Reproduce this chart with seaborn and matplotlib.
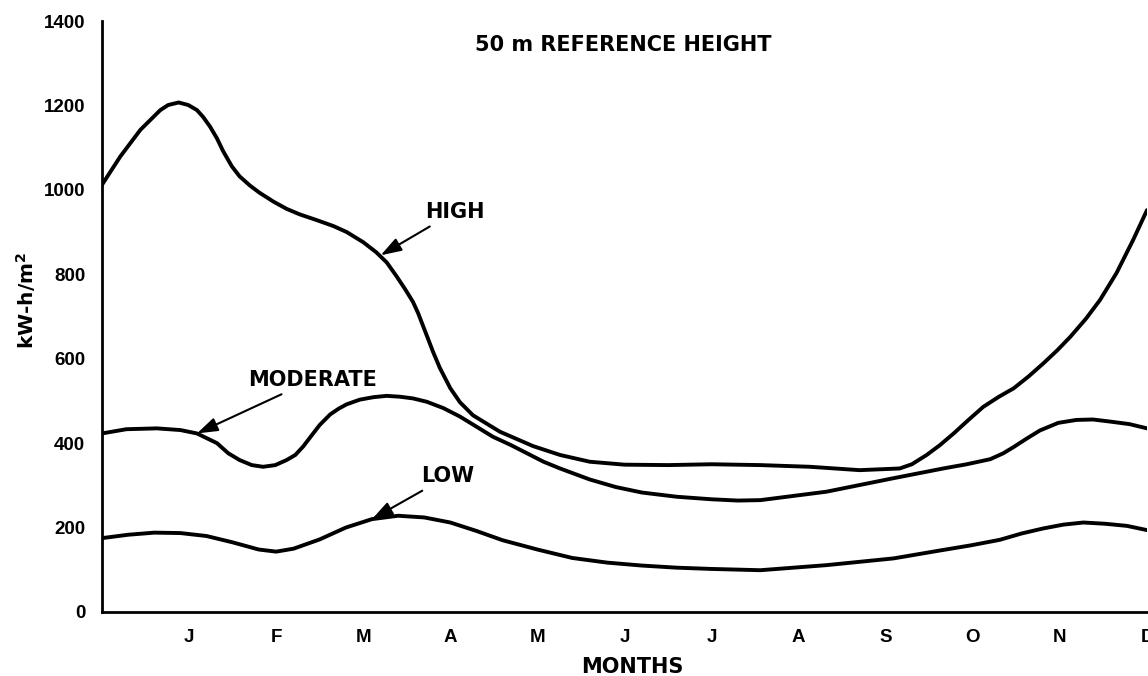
import numpy as np
import pandas as pd
import matplotlib
matplotlib.use('Agg')
import matplotlib.pyplot as plt
import seaborn as sns

# values (x in months from start of axis, y in kW-h/m2)
high_x = [0.0, 0.21, 0.44, 0.67, 0.76, 0.88, 0.99, 1.09, 1.16, 1.24, 1.32, 1.39, 1.49,
          1.58, 1.70, 1.81, 1.97, 2.12, 2.27, 2.47, 2.66, 2.81, 3.0, 3.15, 3.27, 3.38,
          3.48, 3.57, 3.63, 3.69, 3.75, 3.80, 3.88, 4.0, 4.11, 4.26, 4.57, 4.95, 5.26,
          5.6, 6.0, 6.5, 7.0, 7.56, 8.13, 8.70, 9.16, 9.3, 9.47, 9.62, 9.78, 9.95, 10.12,
          10.3, 10.47, 10.64, 10.81, 10.97, 11.12, 11.3, 11.46, 11.65, 11.84, 12.0]
high_y = [1012, 1079, 1142, 1189, 1201, 1207, 1201, 1189, 1173, 1150, 1122, 1092, 1056,
          1032, 1010, 993, 972, 955, 942, 928, 914, 900, 876, 852, 828, 796, 765, 735,
          708, 676, 644, 617, 578, 530, 497, 466, 427, 393, 372, 356, 349, 348, 350, 348,
          344, 336, 340, 350, 372, 395, 423, 455, 486, 510, 530, 558, 589, 620, 652, 695,
          739, 803, 881, 952]

mod_x = [0.0, 0.28, 0.63, 0.90, 1.09, 1.32, 1.45, 1.58, 1.72, 1.85, 1.99, 2.12, 2.22,
         2.31, 2.41, 2.50, 2.62, 2.72, 2.81, 2.96, 3.12, 3.27, 3.42, 3.57, 3.73, 3.92,
         4.11, 4.3, 4.49, 4.69, 4.88, 5.07, 5.26, 5.6, 5.9, 6.2, 6.6, 7.0, 7.3, 7.56,
         8.32, 9.09, 9.66, 9.93, 10.2, 10.35, 10.47, 10.62, 10.77, 10.98, 11.19, 11.38,
         11.58, 11.8, 12.0]
mod_y = [423, 433, 435, 431, 423, 400, 376, 360, 348, 344, 348, 360, 372, 392, 419, 443,
         468, 482, 492, 503, 509, 512, 510, 506, 498, 483, 463, 439, 415, 396, 376, 356,
         340, 314, 296, 283, 273, 267, 264, 265, 285, 317, 340, 350, 362, 376, 391, 411,
         430, 448, 455, 456, 451, 445, 435]

low_x = [0.0, 0.3, 0.6, 0.9, 1.2, 1.5, 1.8, 2.0, 2.2, 2.5, 2.8, 3.1, 3.4, 3.7, 4.0, 4.3,
         4.6, 5.0, 5.4, 5.8, 6.2, 6.6, 7.0, 7.56, 8.32, 9.09, 9.66, 9.98, 10.31, 10.56,
         10.81, 11.04, 11.27, 11.52, 11.77, 12.0]
low_y = [175, 183, 188, 187, 180, 165, 148, 143, 150, 172, 200, 220, 228, 224, 212, 192,
         170, 148, 128, 117, 110, 105, 102, 99, 111, 127, 147, 158, 171, 186, 198, 207,
         212, 209, 204, 194]

months = ['J', 'F', 'M', 'A', 'M', 'J', 'J', 'A', 'S', 'O', 'N', 'D']
yticks = [0, 200, 400, 600, 800, 1000, 1200, 1400]

df = pd.concat([
    pd.DataFrame({'month': high_x, 'energy': high_y, 'site': 'HIGH'}),
    pd.DataFrame({'month': mod_x, 'energy': mod_y, 'site': 'MODERATE'}),
    pd.DataFrame({'month': low_x, 'energy': low_y, 'site': 'LOW'}),
])

sns.set_style('white')
plt.rcParams['text.color'] = 'black'
tickfont = ['Liberation Sans', 'DejaVu Sans']
labelfont = ['DejaVu Sans']

fig = plt.figure(figsize=(11.48, 6.76), dpi=100)
ax = fig.add_axes([102 / 1148, 64 / 676, 1045 / 1148, 591 / 676])

sns.lineplot(data=df, x='month', y='energy', hue='site', sort=False,
             palette=['black', 'black', 'black'], linewidth=2.8, legend=False, ax=ax,
             solid_joinstyle='round', solid_capstyle='round')

ax.set_xlim(0, 12)
ax.set_ylim(0, 1400)
ax.set_xticks(range(1, 13))
ax.set_xticklabels(months, family=tickfont, fontweight='bold', fontsize=13.5, color='black')
ax.set_yticks(yticks)
ax.set_yticklabels([str(v) for v in yticks], family=tickfont, fontweight='bold',
                   fontsize=13.5, color='black')
ax.tick_params(axis='x', direction='in', length=10, width=2, pad=12, colors='black')
ax.tick_params(axis='y', direction='in', length=14, width=1.8, pad=12, colors='black')
for s in ['top', 'right']:
    ax.spines[s].set_visible(False)
for s in ['left', 'bottom']:
    ax.spines[s].set_linewidth(2)
    ax.spines[s].set_color('black')
ax.set_xlabel('')
ax.set_ylabel('')

ax.text(5.98, 1343, '50 m REFERENCE HEIGHT', ha='center', va='center',
        family=labelfont, fontweight='bold', fontsize=15)

arrow = dict(arrowstyle='-|>,head_length=0.9,head_width=0.3', color='black', lw=1.5,
             mutation_scale=14, shrinkA=2, shrinkB=0)
lab = dict(va='center', ha='left', family=labelfont, fontweight='bold', fontsize=15,
           arrowprops=arrow)
ax.annotate('HIGH', xy=(3.2, 845), xytext=(3.71, 948), **lab)
ax.annotate('MODERATE', xy=(1.09, 423), xytext=(1.68, 550), **lab)
ax.annotate('LOW', xy=(3.1, 220), xytext=(3.67, 322), **lab)

fig.text(632 / 1148, 1 - 667 / 676, 'MONTHS', ha='center', va='center',
         family=labelfont, fontweight='bold', fontsize=15)
fig.text(26 / 1148, 1 - 300 / 676, 'kW-h/m$^{\\mathbf{2}}$', ha='center', va='center',
         rotation=90, family=labelfont, fontweight='bold', fontsize=14.5)

fig.savefig('out.png', dpi=100)
